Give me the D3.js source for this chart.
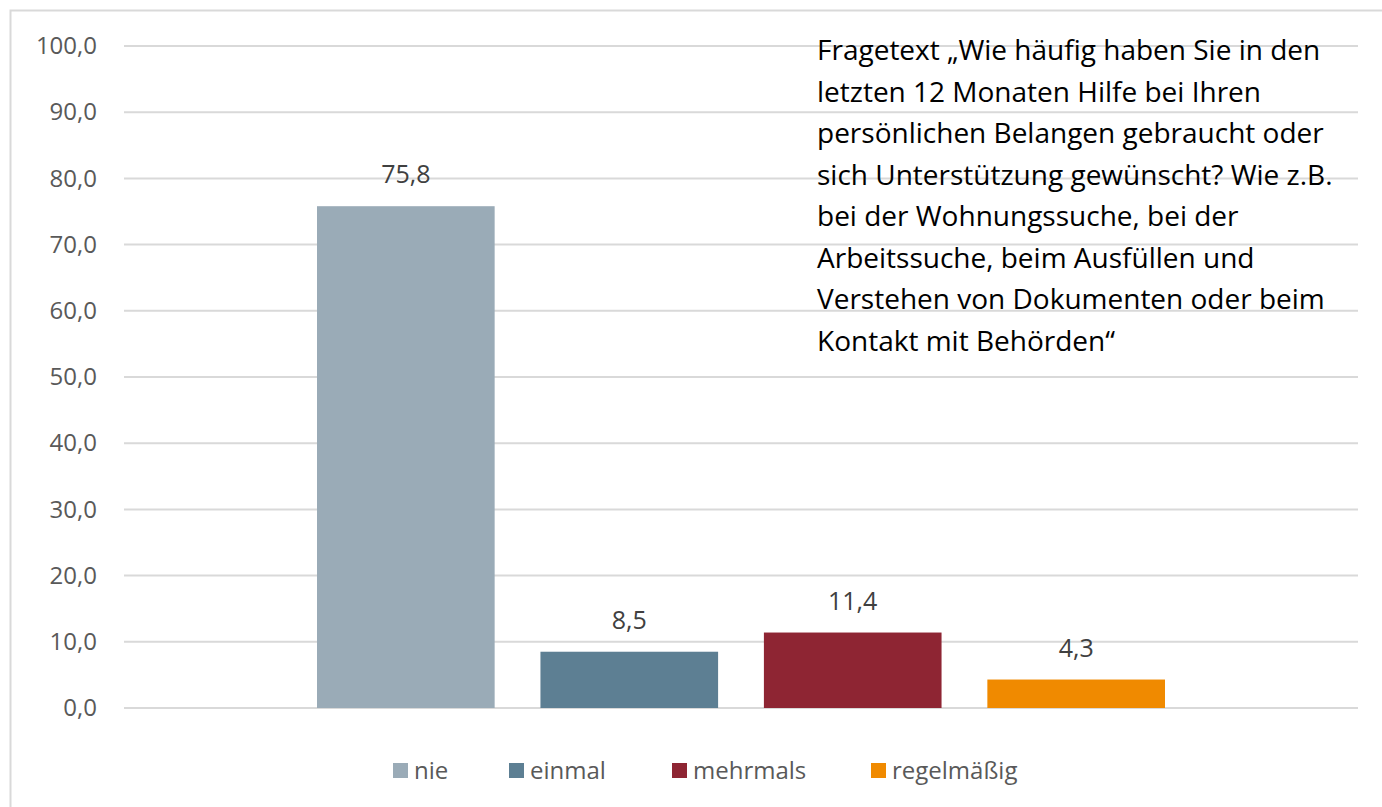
<!DOCTYPE html>
<html>
<head>
<meta charset="utf-8">
<script src="https://cdn.jsdelivr.net/npm/d3@7"></script>
<style>
  body { margin: 0; background: #fff; }
  svg { font-family: "Open Sans", "Noto Sans", sans-serif; }
</style>
</head>
<body>
<div id="chart"></div>
<script>
// data
const series = ["nie", "einmal", "mehrmals", "regelmäßig"];
const values = [75.8, 8.5, 11.4, 4.3];
const colors = ["#9aabb7", "#5d7f93", "#8e2533", "#f08a00"];
const yTicks = [0, 10, 20, 30, 40, 50, 60, 70, 80, 90, 100];
const noteLines = [
  "Fragetext „Wie häufig haben Sie in den",
  "letzten 12 Monaten Hilfe bei Ihren",
  "persönlichen Belangen gebraucht oder",
  "sich Unterstützung gewünscht? Wie z.B.",
  "bei der Wohnungssuche, bei der",
  "Arbeitssuche, beim Ausfüllen und",
  "Verstehen von Dokumenten oder beim",
  "Kontakt mit Behörden“"
];

const width = 1382, height = 807;
const margin = {top: 46, right: 24, bottom: 99, left: 124};
const innerW = width - margin.left - margin.right;
const innerH = height - margin.top - margin.bottom;

const svg = d3.select("#chart").append("svg")
    .attr("width", width)
    .attr("height", height);

// chart border
svg.append("rect")
    .attr("x", 10.5).attr("y", 10.5)
    .attr("width", width + 20).attr("height", height + 20)
    .attr("fill", "none")
    .attr("stroke", "#d9d9d9")
    .attr("stroke-width", 2);

const g = svg.append("g")
    .attr("transform", `translate(${margin.left},${margin.top})`);

// scales
const yScale = d3.scaleLinear().domain([0, 100]).range([innerH, 0]);
const groupScale = d3.scaleBand().domain(["all"]).range([0, innerW]);
const xScale = d3.scaleBand()
    .domain(series)
    .range([groupScale("all") + 193, groupScale("all") + groupScale.bandwidth() - 193])
    .paddingInner(0.205);

// gridlines
g.append("g")
  .selectAll("line")
  .data(yTicks)
  .enter().append("line")
    .attr("x1", 0).attr("x2", innerW)
    .attr("y1", d => yScale(d)).attr("y2", d => yScale(d))
    .attr("stroke", "#d9d9d9")
    .attr("stroke-width", 2);

// y axis
const yAxis = d3.axisLeft(yScale)
    .tickValues(yTicks)
    .tickSize(0)
    .tickPadding(27)
    .tickFormat(d => d3.format(".1f")(d).replace(".", ","));

g.append("g")
    .call(yAxis)
    .call(s => s.select(".domain").remove())
    .selectAll("text")
      .attr("fill", "#595959")
      .style("font-size", "24px")
      .style("font-family", "'Open Sans', sans-serif");

// bars
g.selectAll("rect.bar")
  .data(values)
  .enter().append("rect")
    .attr("class", "bar")
    .attr("x", (d, i) => xScale(series[i]))
    .attr("y", d => yScale(d))
    .attr("width", xScale.bandwidth())
    .attr("height", d => innerH - yScale(d))
    .attr("fill", (d, i) => colors[i]);

// data labels
g.selectAll("text.label")
  .data(values)
  .enter().append("text")
    .attr("class", "label")
    .attr("x", (d, i) => xScale(series[i]) + xScale.bandwidth() / 2)
    .attr("y", d => yScale(d) - 23)
    .attr("text-anchor", "middle")
    .attr("fill", "#404040")
    .style("font-size", "25px")
    .text(d => d3.format(".1f")(d).replace(".", ","));

// annotation text
const note = svg.append("text")
    .attr("x", 817)
    .attr("y", 60)
    .attr("fill", "#000")
    .style("font-size", "28px");
note.selectAll("tspan")
  .data(noteLines)
  .enter().append("tspan")
    .attr("x", 817)
    .attr("dy", (d, i) => i === 0 ? 0 : 41.5)
    .text(d => d);

// legend
const legendX = [393, 509, 672, 871];
const legend = svg.append("g");
const item = legend.selectAll("g")
  .data(series)
  .enter().append("g")
    .attr("transform", (d, i) => `translate(${legendX[i]},763)`);
item.append("rect")
    .attr("width", 15).attr("height", 15)
    .attr("fill", (d, i) => colors[i]);
item.append("text")
    .attr("x", 21).attr("y", 16)
    .attr("fill", "#595959")
    .style("font-size", "24px")
    .text(d => d);
</script>
</body>
</html>
